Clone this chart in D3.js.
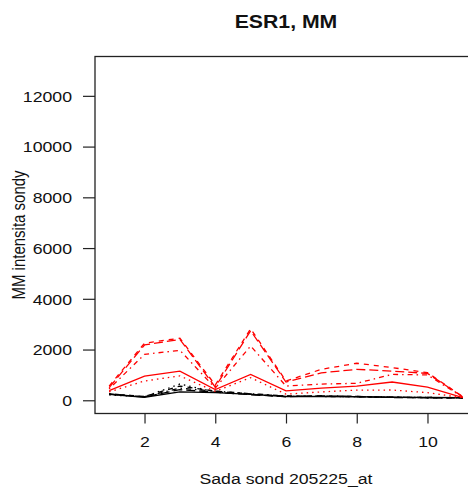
<!DOCTYPE html>
<html><head><meta charset="utf-8">
<script src="https://cdn.jsdelivr.net/npm/d3@7"></script>
<style>body{margin:0;background:#fff} svg{display:block}</style>
</head><body>
<svg id="c" width="468" height="487"></svg>
<script>
// ---- data ----
const xValues = [1, 2, 3, 4, 5, 6, 7, 8, 9, 10, 11];

const blackSolid    = [230, 120, 330, 300, 230, 150, 150, 140, 120, 110, 100];
const blackDashed   = [250, 150, 560, 360, 250, 160, 170, 150, 120, 110, 100];
const blackDotted   = [210, 140, 640, 330, 240, 150, 160, 140, 120, 110, 100];
const blackDotDash  = [260, 140, 480, 360, 260, 170, 150, 140, 120, 100, 90];
const blackLongDash = [240, 130, 420, 320, 220, 140, 170, 150, 110, 100, 90];

const redSolid    = [380, 950, 1150, 420, 1020, 370, 480, 560, 720, 520, 100];
const redDashed   = [560, 2250, 2450, 600, 2820, 760, 1220, 1460, 1290, 1090, 140];
const redDotted   = [330, 760, 960, 350, 890, 240, 330, 400, 405, 300, 100];
const redDotDash  = [450, 1810, 1970, 480, 2140, 560, 640, 670, 1020, 1000, 120];
const redLongDash = [500, 2180, 2400, 520, 2740, 720, 1080, 1220, 1150, 1060, 130];

const xTicks = [2, 4, 6, 8, 10];
const yTicks = [0, 2000, 4000, 6000, 8000, 10000, 12000];
const titleText = "ESR1, MM";
const xLabel = "Sada sond 205225_at";
const yLabel = "MM intensita sondy";

// ---- layout ----
const L = 95, R = 477, T = 56.5, B = 413.5;
const SX = 1.18;
const FONT = "'Liberation Sans', Arial, Helvetica, sans-serif";
const dash = {solid: null, dashed: "5,5", dotted: "1.5,4", dotdash: "1.5,4,5,4", longdash: "9,4"};

const series = [
  {v: blackSolid, c: "#000", t: "solid"},
  {v: blackDashed, c: "#000", t: "dashed"},
  {v: blackDotted, c: "#000", t: "dotted"},
  {v: blackDotDash, c: "#000", t: "dotdash"},
  {v: blackLongDash, c: "#000", t: "longdash"},
  {v: redSolid, c: "#ff0000", t: "solid"},
  {v: redDashed, c: "#ff0000", t: "dashed"},
  {v: redDotted, c: "#ff0000", t: "dotted"},
  {v: redDotDash, c: "#ff0000", t: "dotdash"},
  {v: redLongDash, c: "#ff0000", t: "longdash"}
];

const svg = d3.select("#c");
const x = d3.scaleLinear().domain([0.6, 11.4]).range([L, R]);
const y = d3.scaleLinear().domain([-521, 13551]).range([B, T]);

svg.append("defs").append("clipPath").attr("id", "clip")
  .append("rect").attr("x", L).attr("y", T).attr("width", R - L).attr("height", B - T);

const line = d3.line().x((d, i) => x(xValues[i])).y(d => y(d));
const lg = svg.append("g").attr("clip-path", "url(#clip)");
series.forEach(s => {
  lg.append("path").attr("d", line(s.v)).attr("fill", "none")
    .attr("stroke", s.c).attr("stroke-width", 1.3)
    .attr("stroke-dasharray", dash[s.t]);
});

// box
svg.append("rect").attr("x", L).attr("y", T).attr("width", R - L).attr("height", B - T)
  .attr("fill", "none").attr("stroke", "#222").attr("stroke-width", 1.3);

// axes
const gx = svg.append("g").attr("transform", `translate(0,${B})`)
  .call(d3.axisBottom(x).tickValues(xTicks).tickSize(10).tickFormat(d3.format("d")));
gx.select(".domain").remove();
gx.attr("font-size", 15).attr("font-family", FONT);
gx.selectAll(".tick line").attr("stroke", "#222").attr("stroke-width", 1.2);
gx.selectAll(".tick text").attr("y", 0).attr("dy", 0).attr("fill", "#111")
  .attr("transform", `translate(0,33) scale(${SX},1)`);

const gy = svg.append("g").attr("transform", `translate(${L},0)`)
  .call(d3.axisLeft(y).tickValues(yTicks).tickSize(12).tickFormat(d3.format("d")));
gy.select(".domain").remove();
gy.attr("font-size", 15).attr("font-family", FONT);
gy.selectAll(".tick line").attr("stroke", "#222").attr("stroke-width", 1.2);
gy.selectAll(".tick text").attr("x", 0).attr("dy", "0.35em").attr("fill", "#111")
  .attr("transform", `translate(-23,0) scale(${SX},1)`);

// titles
svg.append("text").text(titleText)
  .attr("transform", `translate(286,27.5) scale(${SX},1)`)
  .attr("text-anchor", "middle").attr("font-family", FONT)
  .attr("font-weight", "bold").attr("font-size", 18).attr("fill", "#111");
svg.append("text").text(xLabel)
  .attr("transform", `translate(286,484) scale(${SX},1)`)
  .attr("text-anchor", "middle").attr("font-family", FONT)
  .attr("font-size", 15).attr("fill", "#111");
svg.append("text").text(yLabel)
  .attr("transform", `translate(25,235) scale(${SX},1) rotate(-90)`)
  .attr("text-anchor", "middle").attr("font-family", FONT)
  .attr("font-size", 15).attr("fill", "#111");
</script>
</body></html>
